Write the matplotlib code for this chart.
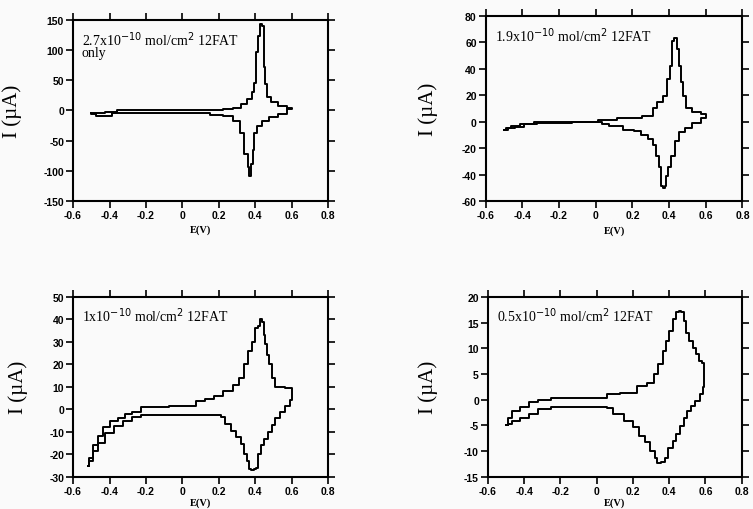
import numpy as np
import matplotlib
matplotlib.use("agg")
import matplotlib.pyplot as plt

plt.rcParams['axes.unicode_minus'] = False

# panel 1: 2.7x10-10 mol/cm2 12FAT only
p1_fwd_e = [-0.50, -0.45, -0.40, -0.32, -0.20, 0.00, 0.20, 0.25, 0.30, 0.34, 0.37, 0.39,
            0.40, 0.41, 0.42, 0.43, 0.44, 0.45, 0.46, 0.47, 0.50, 0.55, 0.60]
p1_fwd_i = [-5, -4, -3, 0, 0, 0, 1, 2, 4, 10, 19, 30,
            46, 96, 123, 143, 140, 72, 44, 22, 14, 7, 4]
p1_rev_e = [0.60, 0.55, 0.50, 0.45, 0.42, 0.40, 0.39, 0.38, 0.37, 0.365, 0.35, 0.33,
            0.30, 0.25, 0.20, 0.10, 0.00, -0.20, -0.32, -0.45, -0.50]
p1_rev_i = [3, -6, -11, -17, -25, -38, -66, -88, -108, -94, -72, -38,
            -17, -10, -7, -5, -5, -5, -5, -9, -6]

# panel 2: 1.9x10-10 mol/cm2 12FAT
p2_fwd_e = [-0.50, -0.48, -0.44, -0.39, -0.28, 0.00, 0.03, 0.20, 0.30, 0.32, 0.35, 0.38,
            0.40, 0.41, 0.42, 0.43, 0.44, 0.45, 0.46, 0.47, 0.48, 0.50, 0.55, 0.60]
p2_fwd_i = [-6, -5, -3, -1.5, -0.5, -0.5, 1.5, 2.5, 4, 10, 15, 19,
            32, 42, 61, 63, 63, 55, 42, 30, 19, 10, 7, 5.5]
p2_rev_e = [0.60, 0.55, 0.50, 0.47, 0.44, 0.42, 0.40, 0.39, 0.38, 0.37, 0.36, 0.35,
            0.34, 0.32, 0.30, 0.27, 0.22, 0.20, 0.10, 0.05, 0.02, -0.28, -0.36, -0.42,
            -0.46, -0.50]
p2_rev_i = [3, -1, -4.5, -8, -15, -26, -34, -41, -49, -50, -49, -34,
            -26, -18, -13, -10, -7, -6, -3, -2, -0.5, -1, -2, -4,
            -5, -6]

# panel 3: 1x10-10 mol/cm2 12FAT
p3_fwd_e = [-0.52, -0.50, -0.48, -0.45, -0.42, -0.38, -0.33, -0.30, -0.25, -0.20, 0.05,
            0.10, 0.15, 0.20, 0.25, 0.30, 0.32, 0.35, 0.37, 0.39, 0.41, 0.42, 0.43, 0.44,
            0.45, 0.46, 0.47, 0.48, 0.50, 0.52, 0.60]
p3_fwd_i = [-25, -23, -16, -12, -8, -5, -4, -2, -1, 1, 1.5,
            3.7, 4.5, 6, 8, 11, 14, 20, 26, 30, 36, 37, 40, 39,
            33, 29, 24, 20, 14, 10, 9.5]
p3_rev_e = [0.60, 0.58, 0.55, 0.52, 0.50, 0.48, 0.46, 0.44, 0.42, 0.41, 0.40, 0.38,
            0.37, 0.36, 0.35, 0.33, 0.31, 0.28, 0.25, 0.22, 0.20, -0.20, -0.25, -0.30,
            -0.35, -0.40, -0.45, -0.48, -0.50, -0.52]
p3_rev_i = [4, 1.5, -1, -4, -7, -10, -13, -16, -20, -26, -26.5, -27,
            -26.5, -23, -20, -15.5, -12.5, -9.5, -6.5, -3.5, -2.5, -2.5, -3.5, -5,
            -7.5, -10.5, -15, -18.5, -21.5, -25]

# panel 4: 0.5x10-10 mol/cm2 12FAT
p4_fwd_e = [-0.50, -0.48, -0.45, -0.40, -0.35, -0.30, -0.20, 0.05, 0.06, 0.20, 0.25,
            0.30, 0.33, 0.35, 0.38, 0.39, 0.41, 0.43, 0.45, 0.46, 0.47, 0.49, 0.50, 0.52,
            0.54, 0.56, 0.57, 0.59]
p4_fwd_i = [-5, -3.5, -2.2, -1.5, -0.5, 0, 0.4, 0.4, 1.2, 1.4, 2.7,
            3.3, 5, 7, 9.5, 11.4, 13.4, 15.6, 17, 17.3, 17, 15.3, 13, 11.4,
            10, 8.8, 7.5, 7.2]
p4_rev_e = [0.59, 0.58, 0.56, 0.53, 0.51, 0.49, 0.47, 0.45, 0.43, 0.41, 0.38, 0.37,
            0.34, 0.33, 0.31, 0.28, 0.25, 0.22, 0.18, 0.12, 0.06, 0.05, -0.20, -0.30,
            -0.35, -0.40, -0.45, -0.48, -0.50]
p4_rev_i = [2.4, 1.1, -0.2, -1.2, -2.2, -3.5, -5.1, -6.7, -8, -9.3, -11.3, -12.2,
            -12.4, -11.3, -10, -8.3, -7, -5.4, -4.1, -2.8, -1.6, -1.5, -1.5, -1.8,
            -2.7, -3.5, -4.1, -4.8, -5]

labels = ["2.7x10$^{-10}$ mol/cm$^{2}$ 12FAT\nonly",
          "1.9x10$^{-10}$ mol/cm$^{2}$ 12FAT",
          "1x10$^{-10}$ mol/cm$^{2}$ 12FAT",
          "0.5x10$^{-10}$ mol/cm$^{2}$ 12FAT"]
ylims = [(-150, 150), (-60, 80), (-30, 50), (-15, 20)]
ysteps = [50, 20, 10, 5]
xticks = [-0.6, -0.4, -0.2, 0, 0.2, 0.4, 0.6, 0.8]
xticklabels = ["-0.6", "-0.4", "-0.2", "0", "0.2", "0.4", "0.6", "0.8"]

data = [(p1_fwd_e, p1_fwd_i, p1_rev_e, p1_rev_i),
        (p2_fwd_e, p2_fwd_i, p2_rev_e, p2_rev_i),
        (p3_fwd_e, p3_fwd_i, p3_rev_e, p3_rev_i),
        (p4_fwd_e, p4_fwd_i, p4_rev_e, p4_rev_i)]

# axes rectangles in figure fractions
rects = [[0.097, 0.604, 0.339, 0.355],
         [0.645, 0.604, 0.341, 0.363],
         [0.097, 0.063, 0.339, 0.353],
         [0.648, 0.063, 0.337, 0.353]]
ylab_x = [-0.20, -0.187, -0.176, -0.197]
xlab_y = [-0.13, -0.13, -0.115, -0.115]

fig = plt.figure(figsize=(7.53, 5.10), dpi=100)
fig.patch.set_facecolor('#fafafa')

for k in range(4):
    ax = fig.add_axes(rects[k])
    ax.set_facecolor('#fafafa')
    fe, fi, re_, ri = data[k]
    # one closed loop: forward sweep then reverse sweep
    loop_e = list(fe) + list(re_) + [fe[0]]
    loop_i = list(fi) + list(ri) + [fi[0]]
    ax.plot(loop_e, loop_i, drawstyle='steps-mid', color='black', lw=1.4)
    ax.set_xlim(-0.6, 0.8)
    ax.set_ylim(*ylims[k])
    ax.set_xticks(xticks)
    ax.set_xticklabels(xticklabels)
    yt = np.arange(ylims[k][0], ylims[k][1] + 1, ysteps[k])
    ax.set_yticks(yt)
    ax.set_yticklabels([str(int(v)) for v in yt])
    ax.tick_params(direction='out', length=5, width=1.2, top=True, right=True,
                   pad=1.5, labelsize=7.5)
    for t in ax.get_xticklabels() + ax.get_yticklabels():
        t.set_fontfamily('Liberation Sans')
        t.set_fontweight('bold')
    for s in ax.spines.values():
        s.set_linewidth(1.5)
    ax.set_ylabel("I (\u00b5A)", fontsize=15, family='Liberation Serif')
    ax.yaxis.set_label_coords(ylab_x[k], 0.5)
    ax.set_xlabel("E(V)", fontsize=7.5, family='Liberation Serif', fontweight='bold',
                  va='top')
    ax.xaxis.set_label_coords(0.5, xlab_y[k])
    ax.text(0.035, 0.95, labels[k], transform=ax.transAxes, va='top', ha='left',
            fontsize=10, family='Liberation Serif', linespacing=0.85)

fig.savefig("out.png", dpi=100, facecolor=fig.get_facecolor())
